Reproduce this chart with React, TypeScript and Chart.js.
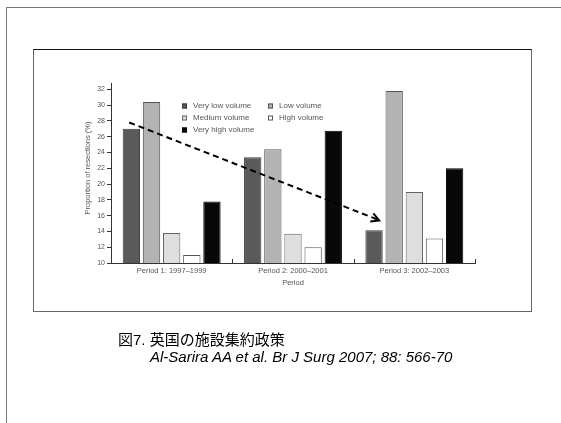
import React, { useEffect, useRef } from "react";
import { Chart, registerables } from "chart.js";

Chart.register(...registerables);

// ---- data ----
const periods = ["Period 1: 1997–1999", "Period 2: 2000–2001", "Period 3: 2002–2003"];
const seriesNames = ["Very low volume", "Low volume", "Medium volume", "High volume", "Very high volume"];
const veryLow = [27.0, 23.4, 14.15];
const low = [30.4, 24.4, 31.8];
const medium = [13.8, 13.7, 19.0];
const high = [11.0, 12.0, 13.1];
const veryHigh = [17.8, 26.75, 22.0];
const yTicks = [10, 12, 14, 16, 18, 20, 22, 24, 26, 28, 30, 32];
const yTitle = "Proportion of resections (%)";
const xTitle = "Period";
const arrowFrom = [-0.35, 27.8]; // [category index, %]
const arrowTo = [1.71, 15.4];
const captionTitle = "図7. 英国の施設集約政策";
const captionRef = "Al-Sarira AA et al. Br J Surg 2007; 88: 566-70";

// ---- styles ----
const fills = ["#5a5a5a", "#b3b3b3", "#dedede", "#ffffff", "#080808"];
const borders = ["#3a3a3a", "#555555", "#666666", "#555555", "#000000"];
const FONT = '"Liberation Sans", Arial, sans-serif';
const TXT = "#555";

const overlay = {
  id: "overlay",
  afterDatasetsDraw(chart: any) {
    const { ctx, chartArea, scales } = chart;
    const x = scales.x;
    const y = scales.y;
    ctx.save();
    // category boundary marks on x axis
    ctx.strokeStyle = "#333";
    ctx.lineWidth = 1;
    for (let i = 0; i < periods.length; i++) {
      const px = Math.round(x.getPixelForValue(i + 0.5)) + 0.5;
      ctx.beginPath();
      ctx.moveTo(px, y.bottom);
      ctx.lineTo(px, y.bottom - 4);
      ctx.stroke();
    }
    // dashed arrow
    const x0 = x.getPixelForValue(arrowFrom[0]);
    const y0 = y.getPixelForValue(arrowFrom[1]);
    const x1 = x.getPixelForValue(arrowTo[0]);
    const y1 = y.getPixelForValue(arrowTo[1]);
    ctx.strokeStyle = "#000";
    ctx.lineWidth = 2;
    ctx.setLineDash([6, 4]);
    ctx.beginPath();
    ctx.moveTo(x0, y0);
    ctx.lineTo(x1 - 2, y1 - 1);
    ctx.stroke();
    ctx.setLineDash([]);
    const ang = Math.atan2(y1 - y0, x1 - x0);
    const hl = 9;
    ctx.beginPath();
    ctx.moveTo(x1 - hl * Math.cos(ang - 0.5), y1 - hl * Math.sin(ang - 0.5));
    ctx.lineTo(x1, y1);
    ctx.lineTo(x1 - hl * Math.cos(ang + 0.5), y1 - hl * Math.sin(ang + 0.5));
    ctx.stroke();

    // legend (2 columns)
    ctx.font = `8px ${FONT}`;
    ctx.textBaseline = "middle";
    ctx.textAlign = "left";
    const lx = chartArea.left + 71;
    const ly = chartArea.top + 23;
    const colW = 86;
    const rowH = 12;
    seriesNames.forEach((name, i) => {
      const col = i === 4 ? 0 : i % 2;
      const row = i === 4 ? 2 : Math.floor(i / 2);
      const sx = lx + col * colW;
      const sy = ly + row * rowH;
      ctx.fillStyle = fills[i];
      ctx.fillRect(sx, sy - 2.5, 5, 5);
      ctx.strokeStyle = borders[i];
      ctx.lineWidth = 1;
      ctx.strokeRect(sx + 0.5, sy - 2.5 + 0.5, 4, 4);
      ctx.fillStyle = TXT;
      ctx.fillText(name, sx + 11, sy);
    });

    // axis titles
    ctx.fillStyle = TXT;
    ctx.font = `7.5px ${FONT}`;
    ctx.textAlign = "center";
    ctx.fillText(xTitle, (chartArea.left + chartArea.right) / 2, chartArea.bottom + 20);
    ctx.save();
    ctx.translate(chartArea.left - 23, (chartArea.top + chartArea.bottom) / 2 - 5);
    ctx.rotate(-Math.PI / 2);
    ctx.fillText(yTitle, 0, 0);
    ctx.restore();
    ctx.restore();
  },
};

export default function App() {
  const ref = useRef<HTMLCanvasElement | null>(null);
  useEffect(() => {
    if (!ref.current) return;
    const series = [veryLow, low, medium, high, veryHigh];
    const chart = new Chart(ref.current, {
      type: "bar",
      data: {
        labels: periods,
        datasets: series.map((d, i) => ({
          label: seriesNames[i],
          data: d,
          backgroundColor: fills[i],
          borderColor: borders[i],
          borderWidth: 1,
          categoryPercentage: 0.83,
          barPercentage: 0.86,
        })),
      },
      options: {
        animation: false,
        responsive: false,
        devicePixelRatio: 1,
        layout: { padding: { left: 81, right: 86, top: 83, bottom: 130 } },
        plugins: { legend: { display: false }, tooltip: { enabled: false } },
        scales: {
          x: {
            afterFit: (s: any) => {
              s.height = 30;
            },
            grid: { drawOnChartArea: false, drawTicks: false },
            border: { color: "#333", width: 1 },
            ticks: { font: { size: 7.5, family: FONT }, color: TXT, padding: 3 },
          },
          y: {
            min: yTicks[0],
            max: yTicks[yTicks.length - 1] + 0.8,
            afterFit: (s: any) => {
              s.width = 30;
            },
            afterBuildTicks: (s: any) => {
              s.ticks = yTicks.map((v) => ({ value: v }));
            },
            grid: { drawOnChartArea: false, drawTicks: true, tickLength: 4, color: "#333" },
            border: { color: "#333", width: 1 },
            ticks: { font: { size: 7, family: FONT }, color: TXT, padding: 2 },
          },
        },
      },
      plugins: [overlay],
    });
    return () => chart.destroy();
  }, []);

  return (
    <div style={{ position: "fixed", left: 0, top: 0, width: 561, height: 423, background: "#fff", overflow: "hidden" }}>
      <div
        style={{
          position: "absolute",
          left: 6,
          top: 7,
          width: 620,
          height: 500,
          borderLeft: "1px solid #777",
          borderTop: "1px solid #777",
        }}
      />
      <div
        style={{
          position: "absolute",
          left: 33,
          top: 49,
          width: 497,
          height: 261,
          border: "1px solid #666",
          borderTop: "1px solid #111",
        }}
      />
      <canvas ref={ref} width={561} height={423} style={{ position: "absolute", left: 0, top: 0 }} />
      <div
        style={{
          position: "absolute",
          left: 118,
          top: 332,
          fontFamily: '"Liberation Sans", "Noto Sans CJK JP", Arial, sans-serif',
          fontSize: 15,
          lineHeight: "16px",
          color: "#000",
          whiteSpace: "nowrap",
        }}
      >
        {captionTitle}
      </div>
      <div
        style={{
          position: "absolute",
          left: 150,
          top: 349,
          fontFamily: '"Liberation Sans", Arial, sans-serif',
          fontSize: 15,
          fontStyle: "italic",
          lineHeight: "16px",
          color: "#000",
          whiteSpace: "nowrap",
        }}
      >
        {captionRef}
      </div>
    </div>
  );
}
